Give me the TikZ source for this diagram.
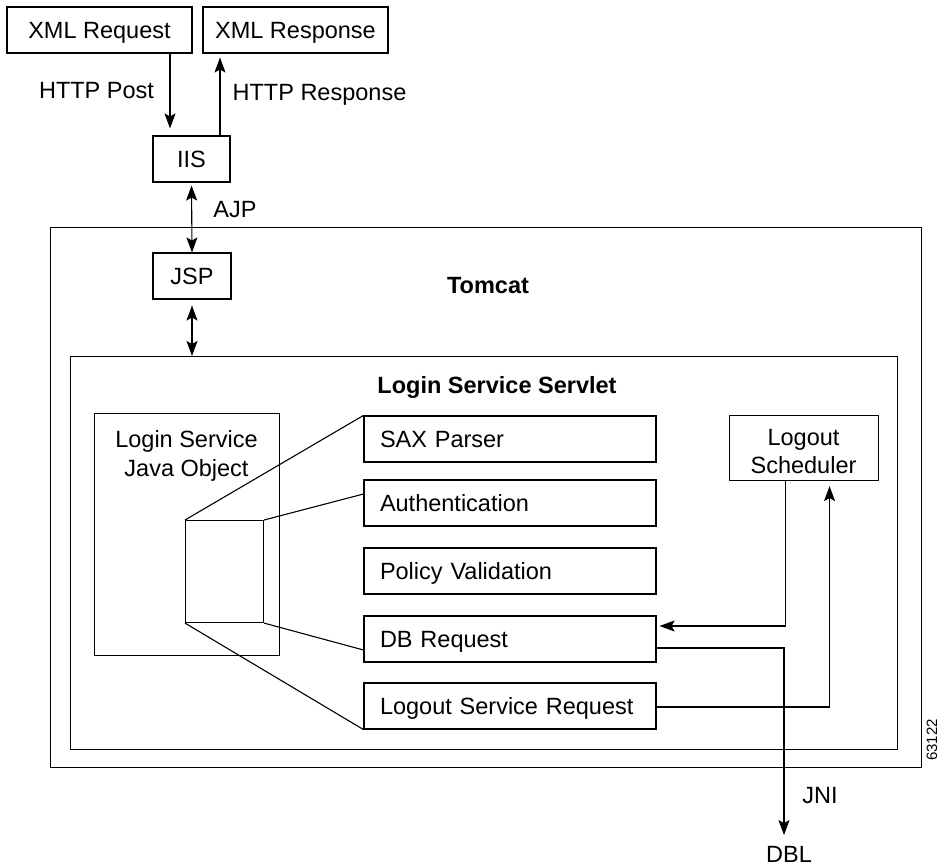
\documentclass[tikz,border=0pt]{standalone}
\usepackage{fontspec}
\setmainfont{Liberation Sans}
\usetikzlibrary{arrows.meta}
\begin{document}
\begin{tikzpicture}[x=1pt,y=-1pt, line width=1.1pt,
  every node/.style={font=\fontsize{23.5}{28}\selectfont, inner sep=0pt},
  lbl/.style={text height=16.8pt, text depth=0pt},
  bx/.style={draw, text height=16.8pt, text depth=0pt, minimum height=46pt},
  rbx/.style={draw, text height=16.8pt, text depth=0pt, minimum height=46pt,
    text width=260pt, inner xsep=16pt, align=left},
  frame/.style={draw, anchor=north west},
  arr/.style={-{Stealth[length=15pt,width=11pt,inset=3pt]}},
  darr/.style={{Stealth[length=15pt,width=11pt,inset=3pt]}-{Stealth[length=15pt,width=11pt,inset=3pt]}},
  bold/.style={font=\fontsize{23.5}{28}\selectfont\bfseries}]
\useasboundingbox (0,0) rectangle (942,866);

% outer containers
\node[frame, minimum width=871pt, minimum height=540pt] (tomcat) at (50,227) {};
\node[frame, minimum width=827pt, minimum height=393pt] (srv) at (70,356) {};
\node[lbl, bold] (tomcatlbl) at (488,285) {Tomcat};
\node[lbl, bold] (srvlbl) at (497,385) {Login Service Servlet};

% top boxes
\node[bx, minimum width=185pt] (xreq) at (99.5,30) {XML Request};
\node[bx, minimum width=185pt] (xresp) at (295.5,30) {XML Response};
\node[bx, minimum width=77pt] (iis) at (191.5,159) {IIS};
\node[bx, minimum width=78pt] (jsp) at (192,276) {JSP};

% labels
\node[lbl] (lpost) at (96.5,90) {HTTP Post};
\node[lbl] (lresp) at (319.5,92) {HTTP Response};
\node[lbl] (lajp) at (235,209) {AJP};

% arrows top
\draw[arr, shorten >=7pt] ([xshift=70.5pt]xreq.south) -- ([xshift=70.5pt]xreq.south |- iis.north);
\draw[arr, shorten >=4pt] ([xshift=28.5pt]iis.north) -- ([xshift=28.5pt]iis.north |- xresp.south);
\draw[darr, shorten <=3pt] (iis.south) -- (jsp.north);
\draw[darr, shorten <=6pt] (jsp.south) -- (jsp.south |- srv.north);

% Java object
\node[frame, minimum width=185pt, minimum height=242pt] (jobj) at (94,413) {};
\node[anchor=north, align=center, font=\fontsize{23.5}{29}\selectfont] (jobjlbl) at (186.5,430) {Login Service\\Java Object};
\node[frame, minimum width=78pt, minimum height=102pt] (sr) at (185,520) {};

% right boxes
\node[rbx] (sax) at (510,439) {SAX Parser};
\node[rbx] (auth) at (510,503) {Authentication};
\node[rbx] (pol) at (510,571) {Policy Validation};
\node[rbx] (db) at (510,639) {DB Request};
\node[rbx] (lsr) at (510,706) {Logout Service Request};

% fan lines
\draw (sr.north west) -- (sax.north west);
\draw (sr.north east) -- ([yshift=9pt]auth.west);
\draw (sr.south east) -- ([yshift=-11pt]db.west);
\draw (sr.south west) -- (lsr.south west);

% logout scheduler
\node[frame, minimum width=149pt, minimum height=65pt] (ls) at (729,415) {};
\node[anchor=north, align=center, font=\fontsize{23.5}{28}\selectfont] (lslbl) at (803.5,429) {Logout\\Scheduler};

\draw[arr, shorten >=3pt] ([xshift=-18.5pt]ls.south) |- ([yshift=13pt]db.east);
\draw[arr, shorten >=5pt] ([yshift=-1pt]lsr.east) -| ([xshift=25.5pt]ls.south);

% DBL
\node[lbl] (dbl) at (789,854) {DBL};
\node[lbl] (jni) at (820,795) {JNI};
\draw[arr] ([yshift=-9pt]db.east) -| ([xshift=-5pt,yshift=10pt]dbl.north);

\node[rotate=90, font=\fontsize{15}{17}\selectfont] (fig) at (932,740) {63122};
\end{tikzpicture}
\end{document}
